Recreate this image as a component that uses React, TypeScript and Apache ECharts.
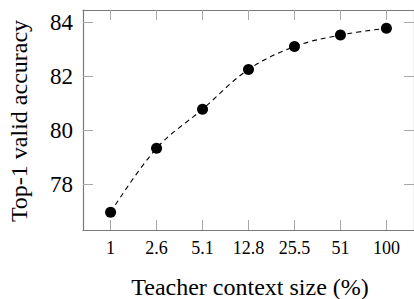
import React, { useEffect, useRef } from "react";
import * as echarts from "echarts";

const categories = ["1", "2.6", "5.1", "12.8", "25.5", "51", "100"];
const accuracy = [76.95, 79.33, 80.78, 82.26, 83.11, 83.54, 83.79];
const yTicks = [78, 80, 82, 84];
const xTitle = "Teacher context size (%)";
const yTitle = "Top-1 valid accuracy";

export default function App() {
  const ref = useRef<HTMLDivElement>(null);
  useEffect(() => {
    document.body.style.margin = "0";
    const chart = echarts.init(ref.current!, null, { renderer: "svg" });
    const idx = categories.map((_, i) => i);
    const axisLine = { show: true, onZero: false, lineStyle: { color: "#7a7a7a", width: 1.2 } };
    const tickStyle = { color: "#a8a8a8", width: 1 };
    const font = "Liberation Serif";
    chart.setOption({
      animation: false,
      textStyle: { fontFamily: font },
      grid: { left: 83, top: 10, width: 334, height: 220, containLabel: false },
      xAxis: [
        {
          type: "value",
          position: "bottom",
          min: -0.6,
          max: 6.6,
          axisLine,
          splitLine: { show: false },
          axisTick: { show: true, inside: true, length: 10, customValues: idx, lineStyle: tickStyle },
          axisLabel: {
            customValues: idx,
            formatter: (v: number) => categories[Math.round(v)],
            color: "#000",
            fontFamily: font,
            fontSize: 18,
            margin: 9,
          },
        },
        {
          type: "value",
          position: "top",
          min: -0.6,
          max: 6.6,
          axisLine,
          splitLine: { show: false },
          axisTick: { show: true, inside: true, length: 10, customValues: idx, lineStyle: tickStyle },
          axisLabel: { show: false },
        },
      ],
      yAxis: [
        {
          type: "value",
          position: "left",
          min: 76.29,
          max: 84.47,
          axisLine,
          splitLine: { show: false },
          axisTick: { show: true, inside: true, length: 10, customValues: yTicks, lineStyle: tickStyle },
          axisLabel: {
            customValues: yTicks,
            color: "#000",
            fontFamily: font,
            fontSize: 23,
            margin: 10,
          },
        },
        {
          type: "value",
          position: "right",
          min: 76.29,
          max: 84.47,
          axisLine,
          splitLine: { show: false },
          axisTick: { show: true, inside: true, length: 10, customValues: yTicks, lineStyle: tickStyle },
          axisLabel: { show: false },
        },
      ],
      graphic: [
        {
          type: "text",
          x: 250,
          y: 287,
          style: { text: xTitle, font: "24px Liberation Serif", fill: "#000", textAlign: "center", textVerticalAlign: "middle" },
        },
        {
          type: "text",
          x: 18.5,
          y: 121,
          rotation: Math.PI / 2,
          style: { text: yTitle, font: "24px Liberation Serif", fill: "#000", textAlign: "center", textVerticalAlign: "middle" },
        },
      ],
      series: [
        {
          type: "line",
          data: accuracy.map((v, i) => [i, v]),
          smooth: 0.35,
          symbol: "circle",
          symbolSize: 11,
          itemStyle: { color: "#000" },
          lineStyle: { color: "#000", width: 1.1, type: [5, 4] },
        },
      ],
    });
    return () => chart.dispose();
  }, []);
  return <div ref={ref} style={{ width: 414, height: 299 }} />;
}
